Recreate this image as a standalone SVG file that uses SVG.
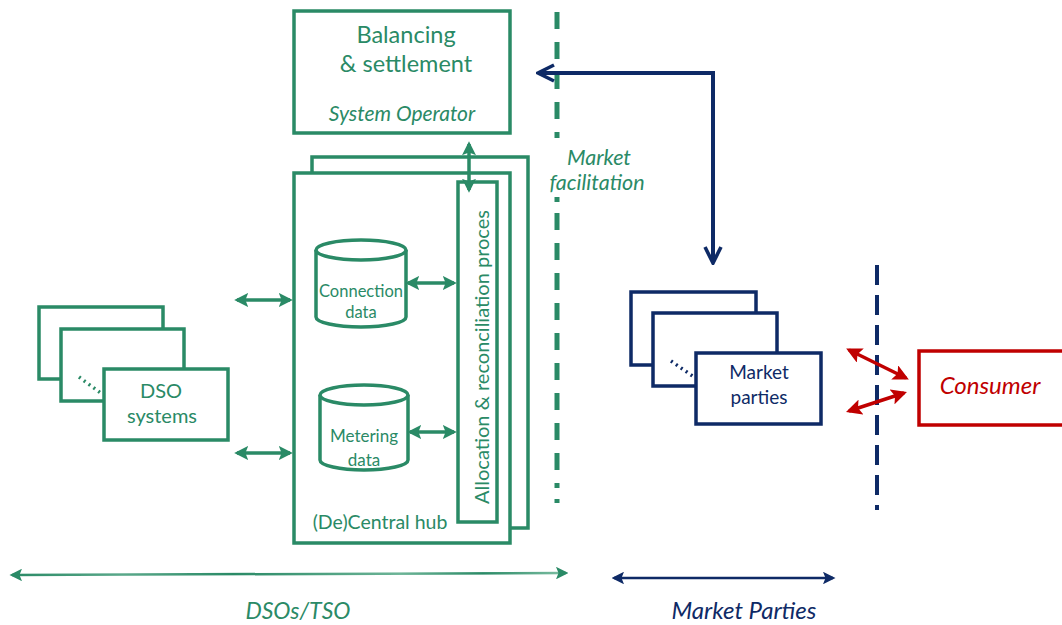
<svg xmlns="http://www.w3.org/2000/svg" width="1062" height="625" viewBox="0 0 1062 625">
<defs>
<style>
.gf{fill:#fff;stroke:#2a8a66;stroke-width:3.5}
.n{fill:#fff;stroke:#0e2a66;stroke-width:3.5}
.r{fill:#fff;stroke:#c00000;stroke-width:3.5}
.t{font-family:Lato,"Liberation Sans",sans-serif;text-anchor:middle}
.tg{fill:#2a8a66}
.tn{fill:#0e2a66}
.tr{fill:#c00000}
.i{font-style:italic}
.ga{stroke:#2a8a66;stroke-width:3.5;fill:none;marker-start:url(#mg);marker-end:url(#mg)}
</style>
<marker id="mg" viewBox="0 0 10 10" refX="8" refY="5" markerWidth="4" markerHeight="4" orient="auto-start-reverse" markerUnits="strokeWidth">
<path d="M0,0 L10,5 L0,10 L2,5 Z" fill="#2a8a66"/>
</marker>
<marker id="mgs" viewBox="0 0 10 10" refX="8" refY="5" markerWidth="5" markerHeight="5" orient="auto-start-reverse" markerUnits="strokeWidth">
<path d="M0,0 L10,5 L0,10 L2,5 Z" fill="#2a8a66"/>
</marker>
<marker id="mn" viewBox="0 0 10 10" refX="9" refY="5" markerWidth="5" markerHeight="5" orient="auto-start-reverse" markerUnits="strokeWidth">
<path d="M1,1 L9,5 L1,9" fill="none" stroke="#0e2a66" stroke-width="1.8" stroke-linejoin="miter"/>
</marker>
<marker id="mns" viewBox="0 0 10 10" refX="8" refY="5" markerWidth="5" markerHeight="5" orient="auto-start-reverse" markerUnits="strokeWidth">
<path d="M0,0 L10,5 L0,10 L2,5 Z" fill="#0e2a66"/>
</marker>
<marker id="mr" viewBox="0 0 10 10" refX="8" refY="5" markerWidth="4.5" markerHeight="4.5" orient="auto-start-reverse" markerUnits="strokeWidth">
<path d="M0,0 L10,5 L0,10 L2,5 Z" fill="#c00000"/>
</marker>
<linearGradient id="gfade" x1="0" y1="0" x2="1" y2="0">
<stop offset="0" stop-color="#2a8a66"/>
<stop offset="0.2" stop-color="#5aa88a"/>
<stop offset="0.4" stop-color="#2a8a66"/>
<stop offset="0.7" stop-color="#6db497"/>
<stop offset="0.85" stop-color="#2a8a66"/>
<stop offset="1" stop-color="#7fbfa4"/>
</linearGradient>
</defs>
<rect width="1062" height="625" fill="#fff"/>

<g id="separators">
<line x1="557" y1="12" x2="557" y2="138" stroke="#2a8a66" stroke-width="5" stroke-dasharray="17 13"/>
<line x1="557" y1="197" x2="557" y2="503" stroke="#2a8a66" stroke-width="5" stroke-dasharray="5 11 17 13 17 13 17 13 17 13 17 13 17 13 17 13 17 13 17 13"/>
<line x1="877" y1="265" x2="877" y2="510" stroke="#0e2a66" stroke-width="4" stroke-dasharray="20 10"/>
</g>

<g id="balancing">
<rect class="gf" x="294" y="11" width="216" height="122"/>
<text class="t tg" x="406" y="43" font-size="23.5">Balancing</text>
<text class="t tg" x="406" y="72" font-size="23.5">&amp; settlement</text>
<text class="t tg i" x="402" y="121" font-size="21">System Operator</text>
</g>

<g id="hub">
<rect class="gf" x="312" y="157" width="216" height="371"/>
<rect class="gf" x="294" y="173" width="216" height="370"/>
<text class="t tg" x="380" y="529" font-size="19.5">(De)Central hub</text>
</g>

<g id="allocation">
<rect class="gf" x="458" y="182" width="39" height="340"/>
<text class="t tg" font-size="20" transform="translate(489,357) rotate(-90)">Allocation &amp; reconciliation proces</text>
</g>

<g id="connection-data">
<path class="gf" d="M316,250 L316,317 A45,10 0 0 0 406,317 L406,250"/>
<ellipse class="gf" cx="361" cy="250" rx="45" ry="10"/>
<text class="t tg" x="361" y="297" font-size="16.5">Connection</text>
<text class="t tg" x="361" y="318" font-size="16.5">data</text>
</g>

<g id="metering-data">
<path class="gf" d="M320,395 L320,460 A44,10 0 0 0 408,460 L408,395"/>
<ellipse class="gf" cx="364" cy="395" rx="44" ry="10"/>
<text class="t tg" x="364" y="442" font-size="17">Metering</text>
<text class="t tg" x="364" y="466" font-size="17">data</text>
</g>

<g id="dso-systems">
<rect class="gf" x="39" y="307" width="124" height="72"/>
<rect class="gf" x="61" y="329" width="123" height="72"/>
<line x1="79" y1="377" x2="102" y2="394" stroke="#2a8a66" stroke-width="3.5" stroke-dasharray="2 4"/>
<rect class="gf" x="104" y="369" width="124" height="71"/>
<text class="t tg" x="161" y="398" font-size="20">DSO</text>
<text class="t tg" x="162" y="423" font-size="20">systems</text>
</g>

<g id="market-parties">
<rect class="n" x="631" y="292" width="125" height="73"/>
<rect class="n" x="653" y="313" width="124" height="73"/>
<line x1="671" y1="361" x2="694" y2="377" stroke="#0e2a66" stroke-width="3.5" stroke-dasharray="2 4"/>
<rect class="n" x="696" y="353" width="125" height="71"/>
<text class="t tn" x="759" y="379" font-size="19">Market</text>
<text class="t tn" x="759" y="404" font-size="19">parties</text>
</g>

<g id="consumer">
<rect class="r" x="919" y="351" width="150" height="74"/>
<text class="t tr i" x="990" y="394" font-size="24">Consumer</text>
</g>

<g id="labels">
<text class="t tg i" x="599" y="165" font-size="21.5">Market</text>
<text class="t tg i" x="597" y="190" font-size="21.5">facilitation</text>
<text class="t tg i" x="298" y="619" font-size="23">DSOs/TSO</text>
<text class="t tn i" x="744" y="619" font-size="24">Market Parties</text>
</g>

<g id="connectors">
<line class="ga" x1="237" y1="300" x2="290" y2="300"/>
<line class="ga" x1="237" y1="453" x2="290" y2="453"/>
<line class="ga" x1="408" y1="283" x2="454" y2="283"/>
<line class="ga" x1="410" y1="432" x2="454" y2="432"/>
<line class="ga" x1="469" y1="144" x2="469" y2="190"/>
<path d="M538,73 L713,73 L713,263" fill="none" stroke="#0e2a66" stroke-width="4" marker-start="url(#mn)" marker-end="url(#mn)"/>
<line x1="849" y1="350" x2="906" y2="378" stroke="#c00000" stroke-width="3.5" marker-start="url(#mr)" marker-end="url(#mr)"/>
<line x1="849" y1="411" x2="904" y2="393" stroke="#c00000" stroke-width="3.5" marker-start="url(#mr)" marker-end="url(#mr)"/>
<line x1="12" y1="575" x2="566" y2="573" stroke="url(#gfade)" stroke-width="2.5" marker-start="url(#mgs)" marker-end="url(#mgs)"/>
<line x1="614" y1="578" x2="833" y2="578" stroke="#0e2a66" stroke-width="2.5" marker-start="url(#mns)" marker-end="url(#mns)"/>
</g>
</svg>
